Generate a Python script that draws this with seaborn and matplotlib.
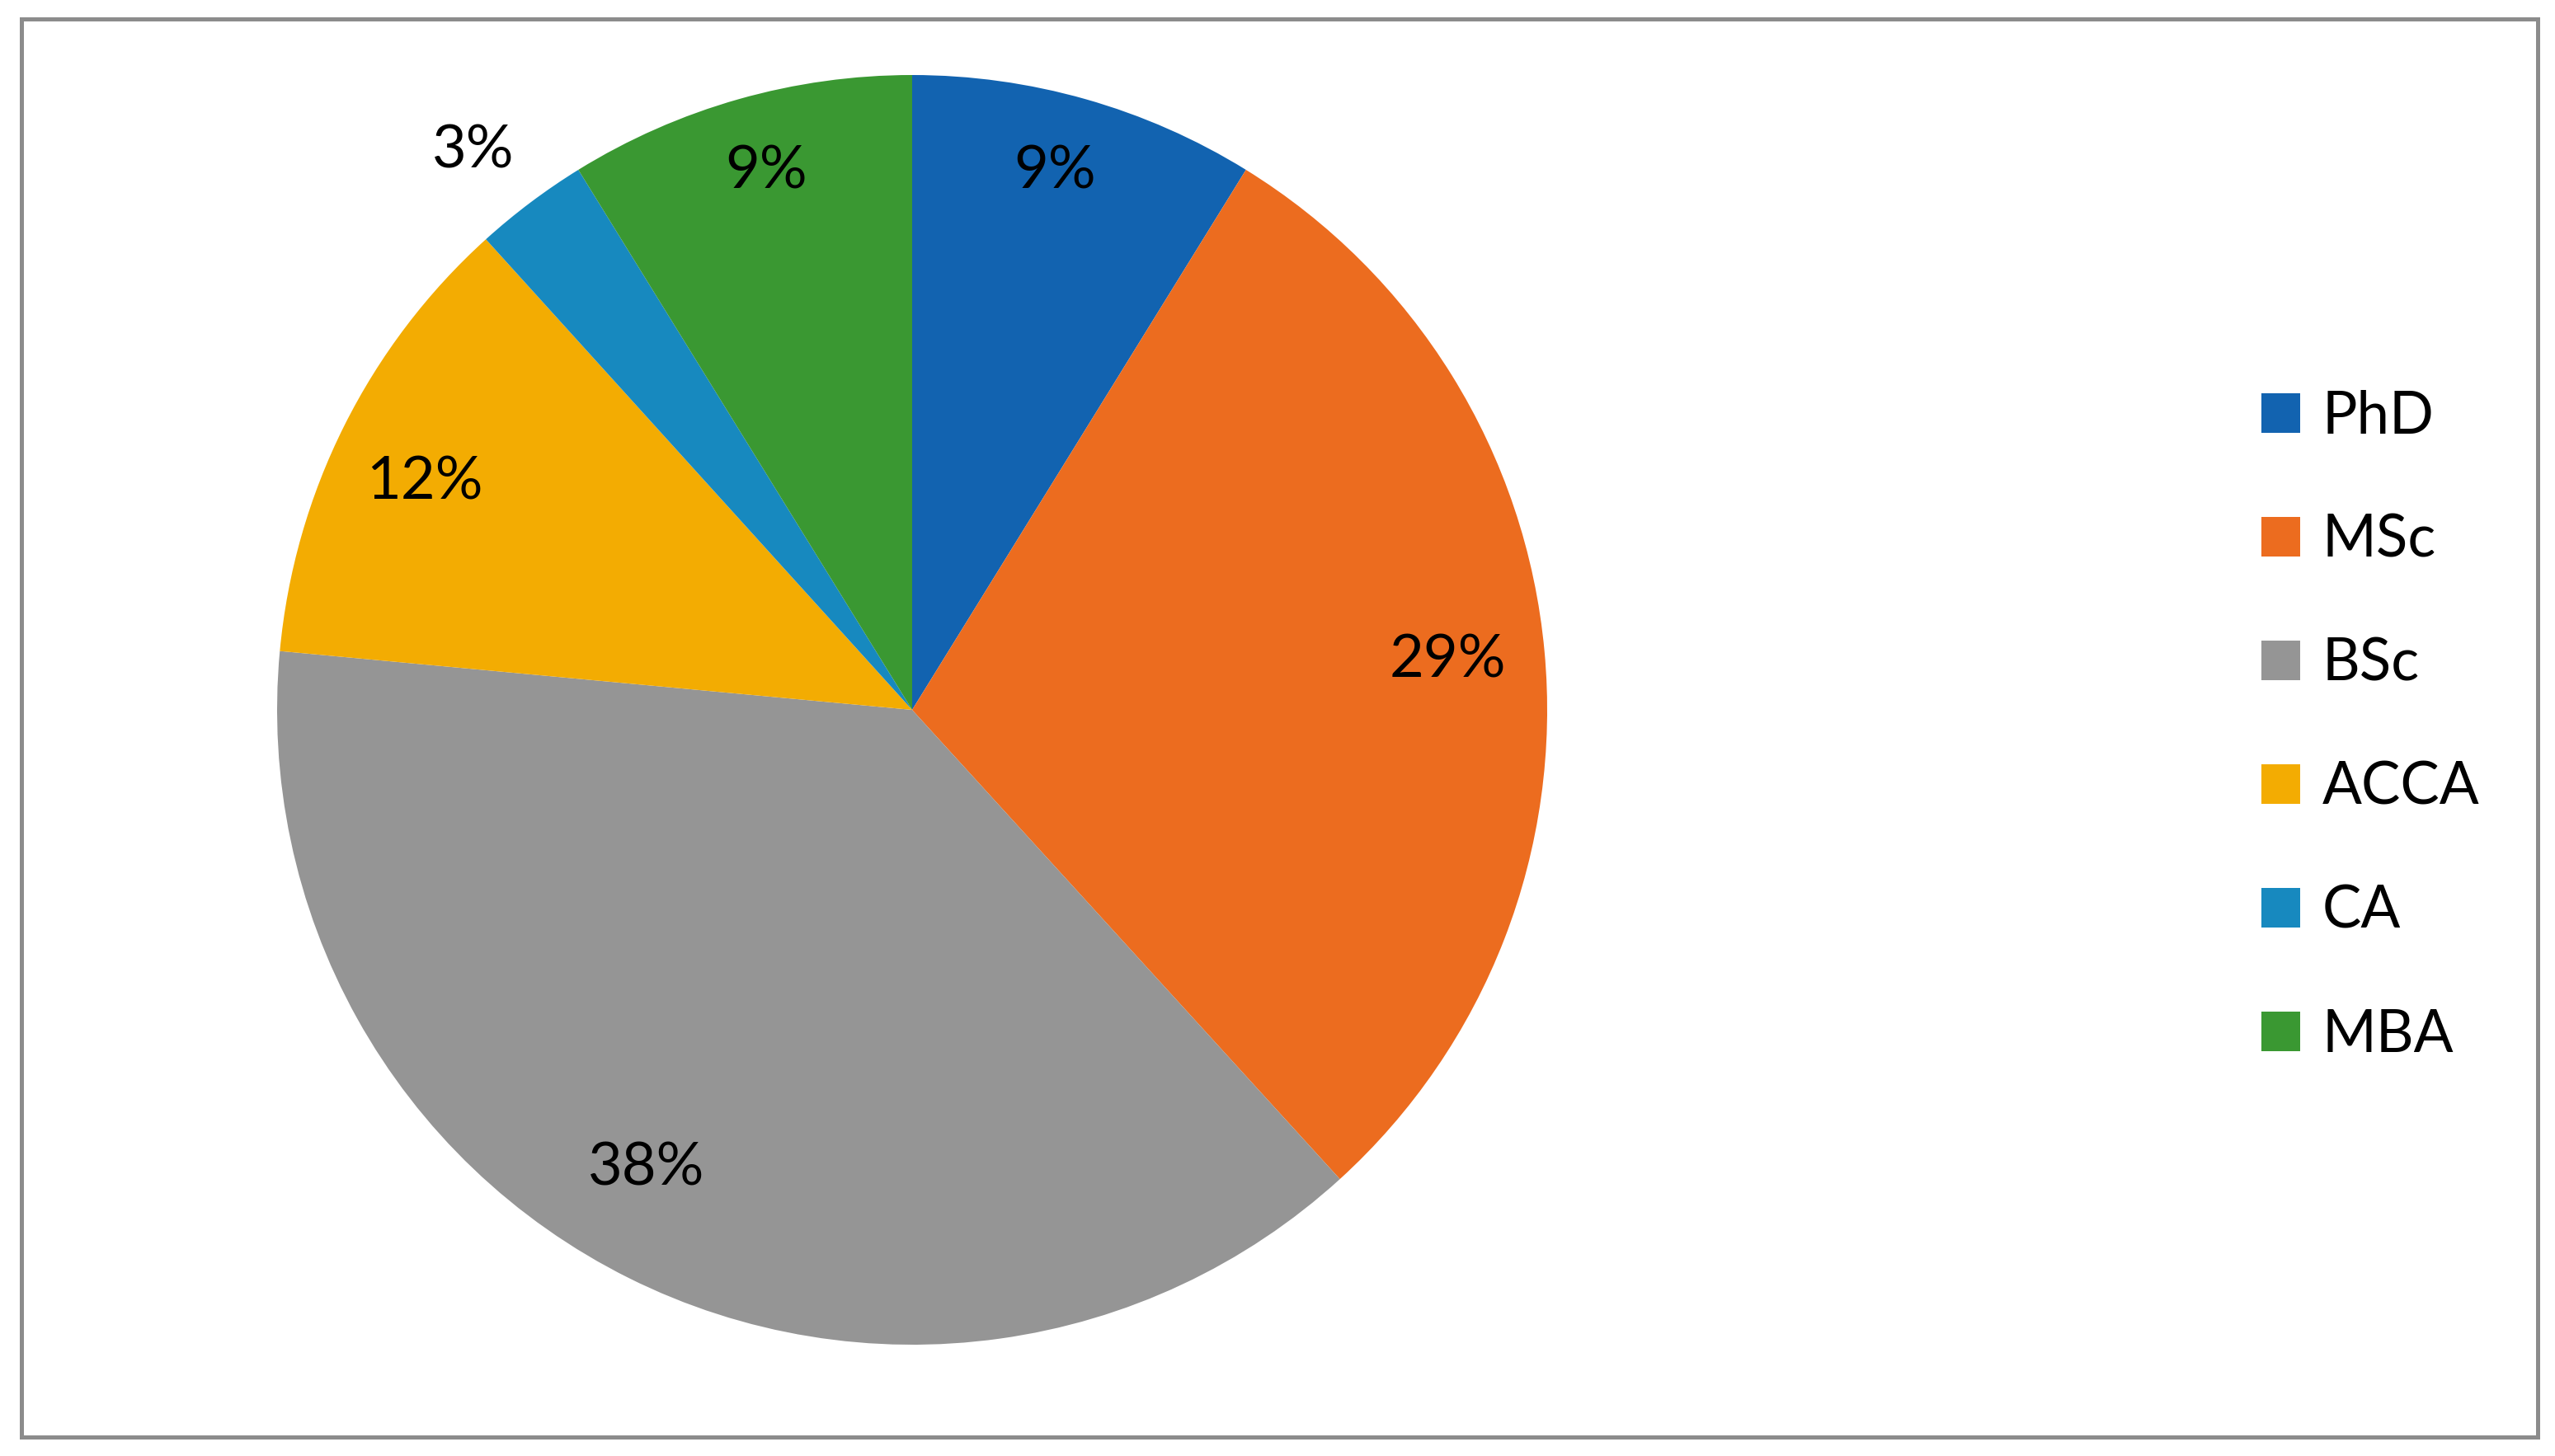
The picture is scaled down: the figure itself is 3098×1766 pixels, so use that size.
import numpy as np
import matplotlib
matplotlib.use("Agg")
import matplotlib.pyplot as plt
from matplotlib.patches import Rectangle, Patch
import seaborn as sns

categories = ["PhD", "MSc", "BSc", "ACCA", "CA", "MBA"]
shares = [8.8, 29.4, 38.2, 11.8, 2.9, 8.8]
colors = ["#1263B0", "#EC6C1F", "#959595", "#F3AC02", "#1789BF", "#3A9832"]
# label placement: radius factor and angular offset (degrees) relative to wedge middle
label_radius = [0.878, 0.847, 0.835, 0.847, 1.119, 0.879]
label_angle_offset = [1.0, 0.0, -3.6, 1.5, 1.2, -0.7]

sns.set_theme(style="white")
plt.rcParams["font.family"] = ["Lato", "DejaVu Sans"]
plt.rcParams["text.color"] = "black"

W, H = 3098, 1766
dpi = 200
fig = plt.figure(figsize=(W / dpi, H / dpi), dpi=dpi)
fig.patch.set_facecolor("white")

cx, cy, R = 1106, 861, 770
ax = fig.add_axes([(cx - R) / W, (H - cy - R) / H, 2 * R / W, 2 * R / H])
wedges, _ = ax.pie(shares, colors=colors, startangle=90, counterclock=False,
                   radius=1, wedgeprops=dict(linewidth=0, antialiased=True))
ax.set_xlim(-1, 1)
ax.set_ylim(-1, 1)
ax.set_aspect("auto")
ax.axis("off")

for w, s, rf, da in zip(wedges, shares, label_radius, label_angle_offset):
    mid = np.deg2rad((w.theta1 + w.theta2) / 2 + da)
    ax.text(rf * np.cos(mid), rf * np.sin(mid), f"{round(s)}%",
            ha="center", va="center", fontsize=26, color="black")

handles = [Patch(facecolor=c, edgecolor="none") for c in colors]
fig.legend(handles, categories, loc="center left",
           bbox_to_anchor=(2742 / W, 1 - 880 / H), frameon=False,
           fontsize=25.5, handlelength=0.66, handleheight=0.66,
           handletextpad=0.38, labelspacing=1.2, borderpad=0,
           borderaxespad=0, labelcolor="black")

fig.patches.append(Rectangle((26 / W, 1 - 1743 / H), (3077 - 26) / W,
                             (1743 - 23) / H, transform=fig.transFigure,
                             fill=False, edgecolor="#8c8c8c", lw=1.8))

fig.savefig("out.png", dpi=dpi, facecolor="white")
